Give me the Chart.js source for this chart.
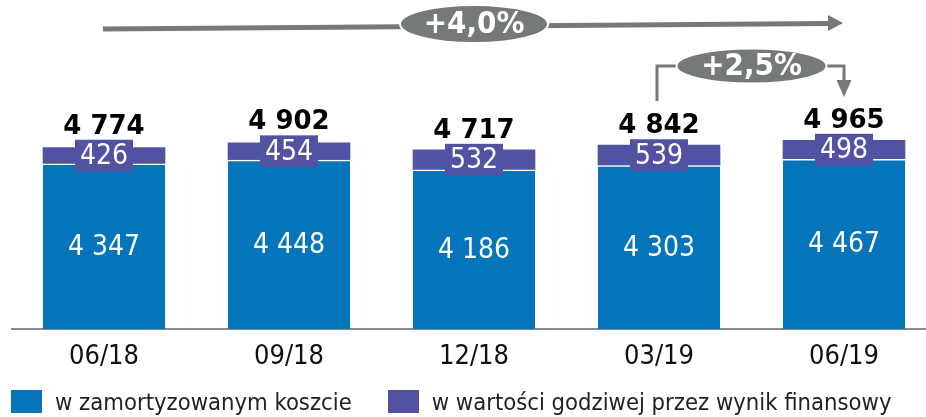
<!DOCTYPE html>
<html>
<head>
<meta charset="utf-8">
<script src="https://cdn.jsdelivr.net/npm/chart.js@4"></script>
<style>
  html, body { margin: 0; padding: 0; background: #fff; overflow: hidden; }
  #wrap { position: relative; width: 937px; height: 417px; }
  #legend { position: absolute; left: 11px; top: 390px; display: flex; gap: 36px;
            font-family: 'DejaVu Sans Condensed', 'DejaVu Sans', sans-serif; font-size: 23.6px; color: #222; }
  .item { display: flex; align-items: center; height: 23px; white-space: nowrap; }
  .box { width: 31px; height: 23px; margin-right: 13px; }
</style>
</head>
<body>
<div id="wrap">
  <canvas id="c" width="937" height="417"></canvas>
  <div id="legend"></div>
</div>
<script>
const categories = ['06/18', '09/18', '12/18', '03/19', '06/19'];
const amortisedCost = [4347, 4448, 4186, 4303, 4467];
const fairValue = [426, 454, 532, 539, 498];
const totals = [4774, 4902, 4717, 4842, 4965];
const seriesNames = ['w zamortyzowanym koszcie', 'w wartości godziwej przez wynik finansowy'];
const growthLabels = ['+4,0%', '+2,5%'];

const BLUE = '#0474BB';
const PURPLE = '#5252A2';
const GRAY = '#767979';
const COND = "'DejaVu Sans Condensed', 'DejaVu Sans', sans-serif";
const REG = "'DejaVu Sans', sans-serif";

function fmt(v) { return String(v).replace(/\B(?=(\d{3})+(?!\d))/g, ' '); }

const labelsPlugin = {
  id: 'barLabels',
  afterDatasetsDraw(chart) {
    const ctx = chart.ctx;
    const m0 = chart.getDatasetMeta(0), m1 = chart.getDatasetMeta(1);
    ctx.save();
    ctx.textAlign = 'center';
    for (let i = 0; i < categories.length; i++) {
      const b = m0.data[i], p = m1.data[i];
      ctx.font = "28px " + COND;
      ctx.fillStyle = '#fff';
      ctx.textBaseline = 'middle';
      ctx.fillText(fmt(amortisedCost[i]), b.x, (b.y + b.base) / 2 + 1);
      const cy = (p.y + p.base) / 2;
      const t = fmt(fairValue[i]);
      const w = ctx.measureText(t).width;
      ctx.fillStyle = PURPLE;
      ctx.fillRect(p.x - w / 2 - 5, cy - 16, w + 10, 32);
      ctx.fillStyle = '#fff';
      ctx.fillText(t, p.x, cy + 1);
      ctx.font = "bold 26px " + REG;
      ctx.fillStyle = '#000';
      ctx.textBaseline = 'alphabetic';
      ctx.fillText(fmt(totals[i]), p.x, cy - 16 - 6);
    }
    ctx.restore();
  }
};

function ellipseLabel(ctx, cx, cy, rx, ry, text) {
  ctx.beginPath();
  ctx.ellipse(cx, cy, rx, ry, 0, 0, Math.PI * 2);
  ctx.fillStyle = GRAY;
  ctx.fill();
  ctx.lineWidth = 2;
  ctx.strokeStyle = '#fff';
  ctx.stroke();
  ctx.fillStyle = '#fff';
  ctx.font = "bold 31px " + COND;
  ctx.textAlign = 'center';
  ctx.textBaseline = 'middle';
  ctx.fillText(text, cx, cy + 1);
}

const arrowsPlugin = {
  id: 'growthArrows',
  afterDraw(chart) {
    const ctx = chart.ctx;
    const xs = chart.scales.x;
    const px = i => xs.getPixelForValue(i);
    ctx.save();
    const x0 = px(0) - 1, x1 = px(4) - 1;
    const yL = 29, yR = 23;
    ctx.strokeStyle = GRAY;
    ctx.fillStyle = GRAY;
    ctx.lineWidth = 5;
    ctx.beginPath();
    ctx.moveTo(x0, yL);
    ctx.lineTo(x1 - 14, yR + 0.5);
    ctx.stroke();
    ctx.beginPath();
    ctx.moveTo(x1, yR);
    ctx.lineTo(x1 - 15, yR - 8);
    ctx.lineTo(x1 - 15, yR + 8);
    ctx.closePath();
    ctx.fill();
    ellipseLabel(ctx, px(2), 24, 74, 19, growthLabels[0]);

    const a = px(3) - 2, b = px(4);
    const yT = 66;
    ctx.strokeStyle = GRAY;
    ctx.fillStyle = GRAY;
    ctx.lineWidth = 3;
    ctx.beginPath();
    ctx.moveTo(a, 101);
    ctx.lineTo(a, yT);
    ctx.lineTo(b, yT);
    ctx.lineTo(b, 82);
    ctx.stroke();
    ctx.beginPath();
    ctx.moveTo(b, 97);
    ctx.lineTo(b - 7.5, 80);
    ctx.lineTo(b + 7.5, 80);
    ctx.closePath();
    ctx.fill();
    ellipseLabel(ctx, (px(3) + px(4)) / 2, yT, 75, 17.5, growthLabels[1]);
    ctx.restore();
  }
};

const chart = new Chart(document.getElementById('c'), {
  type: 'bar',
  data: {
    labels: categories,
    datasets: [
      { label: seriesNames[0], data: amortisedCost, backgroundColor: BLUE,
        borderColor: '#ffffff', borderWidth: { top: 1.5, left: 0, right: 0, bottom: 0 }, borderSkipped: false,
        barThickness: 122 },
      { label: seriesNames[1], data: fairValue, backgroundColor: PURPLE, borderWidth: 0,
        barThickness: 122 }
    ]
  },
  options: {
    responsive: false,
    animation: false,
    devicePixelRatio: 1,
    layout: { padding: { left: 11.5, right: 0.5, top: 0, bottom: 31.6 } },
    plugins: { legend: { display: false }, tooltip: { enabled: false } },
    scales: {
      x: {
        stacked: true,
        offset: true,
        grid: { display: false, drawTicks: false },
        border: { display: true, color: '#8a8a8a', width: 2 },
        ticks: { color: '#111', font: { family: COND, size: 27 }, padding: 12, maxRotation: 0 }
      },
      y: { stacked: true, display: false, min: 0, max: 8658 }
    }
  },
  plugins: [labelsPlugin, arrowsPlugin]
});

const legend = document.getElementById('legend');
chart.data.datasets.forEach(ds => {
  const item = document.createElement('div');
  item.className = 'item';
  const box = document.createElement('span');
  box.className = 'box';
  box.style.background = ds.backgroundColor;
  const txt = document.createElement('span');
  txt.textContent = ds.label;
  item.appendChild(box);
  item.appendChild(txt);
  legend.appendChild(item);
});
</script>
</body>
</html>
